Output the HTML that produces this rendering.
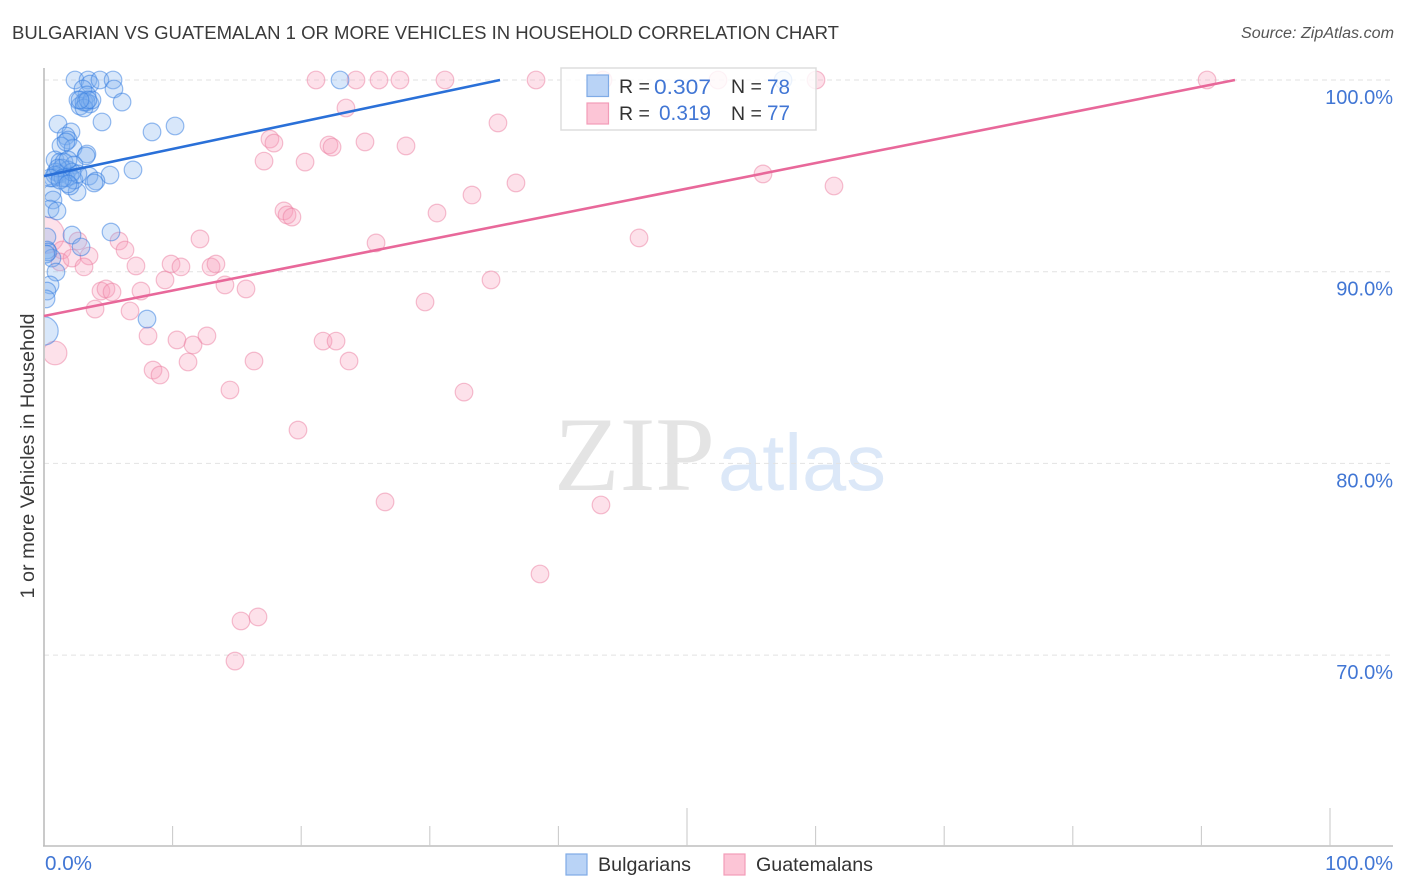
<!DOCTYPE html>
<html lang="en">
<head>
<meta charset="utf-8">
<title>Bulgarian vs Guatemalan 1 or More Vehicles in Household Correlation Chart</title>
<style>
html,body{margin:0;padding:0;background:#fff;}
svg{display:block;font-family:"Liberation Sans",sans-serif;}
</style>
</head>
<body>
<svg id="chart" xmlns="http://www.w3.org/2000/svg" width="1406" height="892" viewBox="0 0 1406 892">
  <defs>
    <clipPath id="plot-clip"><rect x="45" y="0" width="1361" height="846"></rect></clipPath>
  </defs>
  <rect x="0" y="0" width="1406" height="892" fill="#ffffff"></rect>
  <text x="12" y="39" font-size="18.5" fill="#3a3a3a" textLength="827" lengthAdjust="spacingAndGlyphs">BULGARIAN VS GUATEMALAN 1 OR MORE VEHICLES IN HOUSEHOLD CORRELATION CHART</text>
  <text x="1241" y="38" font-size="15.5" font-style="italic" fill="#555555" textLength="153" lengthAdjust="spacingAndGlyphs">Source: ZipAtlas.com</text>
  <g>
    <text x="554" y="490" font-family="'Liberation Serif',serif" font-size="106" fill="#e4e4e4" textLength="161" lengthAdjust="spacingAndGlyphs">ZIP</text>
    <text x="718" y="490" font-size="80" fill="#dce8f8" textLength="168" lengthAdjust="spacingAndGlyphs">atlas</text>
  </g>
  <g id="grid"></g>
  <g id="axes"></g>
  <g id="points" clip-path="url(#plot-clip)"></g>
  <g id="trends"></g>
  <text transform="translate(34,456) rotate(-90)" font-size="19" fill="#3a3a3a" text-anchor="middle" textLength="285" lengthAdjust="spacingAndGlyphs">1 or more Vehicles in Household</text>

  <g>
    <rect x="561" y="68" width="255" height="62" fill="#ffffff" fill-opacity="0.82" stroke="#dddddd" stroke-width="1.5"></rect>
    <rect x="587" y="75" width="21.5" height="21.5" fill="#b9d3f6" stroke="#7fabe6" stroke-width="1.2"></rect>
    <rect x="587" y="103" width="21.5" height="21" fill="#fcc5d6" stroke="#f29cb8" stroke-width="1.2"></rect>
    <text x="619" y="93" font-size="19.5" fill="#333333">R =</text>
    <text x="654" y="94" font-size="21.5" fill="#4176d4" textLength="57" lengthAdjust="spacingAndGlyphs">0.307</text>
    <text x="731" y="93" font-size="19.5" fill="#333333">N =</text>
    <text x="767" y="94" font-size="21.5" fill="#4176d4" textLength="23" lengthAdjust="spacingAndGlyphs">78</text>
    <text x="619" y="120" font-size="19.5" fill="#333333">R =</text>
    <text x="659" y="120" font-size="21.5" fill="#4176d4" textLength="52" lengthAdjust="spacingAndGlyphs">0.319</text>
    <text x="731" y="120" font-size="19.5" fill="#333333">N =</text>
    <text x="767" y="120" font-size="21.5" fill="#4176d4" textLength="23" lengthAdjust="spacingAndGlyphs">77</text>
  </g>

  <g>
    <g>
      <rect x="566" y="854" width="21" height="21" fill="#b9d3f6" stroke="#7fabe6" stroke-width="1.2"></rect>
      <text x="598" y="871" font-size="19.5" fill="#333333" textLength="93" lengthAdjust="spacingAndGlyphs">Bulgarians</text>
    </g>
    <g>
      <rect x="724" y="854" width="21" height="21" fill="#fcc5d6" stroke="#f29cb8" stroke-width="1.2"></rect>
      <text x="756" y="871" font-size="19.5" fill="#333333" textLength="117" lengthAdjust="spacingAndGlyphs">Guatemalans</text>
    </g>
  </g>
</svg>
<script>
const yTickValues = [100, 90, 80, 70];
const yTickLabels = ["100.0%", "90.0%", "80.0%", "70.0%"];
const xTickValues = [10, 20, 30, 40, 50, 60, 70, 80, 90, 100];
const xMajorTicks = [50, 100];
const xEndLabels = ["0.0%", "100.0%"];

const bulgarianX = [2.41,3.42,3.58,4.35,5.37,5.44,3.03,3.34,2.64,2.80,3.11,3.58,3.27,6.07,4.51,1.09,8.40,10.19,23.02,57.47,
  2.10,1.71,1.87,1.32,2.26,1.71,3.34,3.27,0.86,1.24,1.56,2.33,6.92,5.13,0.93,1.24,1.87,2.02,3.50,4.04,
  3.89,2.57,2.02,0.70,1.71,2.33,1.40,0.62,0.70,0.47,1.01,5.21,2.18,2.88,0.23,0.23,0.62,0.31,0.93,0.47,
  0.23,0.16,8.01,0,0.86,1.09,1.48,0.47,2.18,1.24,2.64,1.87,3.11,3.73,3.42,2.80,1.87,0.16];
const bulgarianY = [100,100,99.79,100,100,99.53,99.53,99.22,98.96,98.64,98.85,98.75,98.85,98.85,97.81,97.70,97.29,97.60,100,100,
  97.29,97.08,96.87,96.56,96.45,96.77,96.14,96.04,95.83,95.72,95.72,95.57,95.31,95.04,95.20,95.10,95.31,94.99,94.99,94.73,
  94.63,94.16,94.47,94.89,94.89,94.78,95.41,94.11,93.74,93.27,93.17,92.07,91.91,91.29,91.81,91.13,90.71,91.03,89.98,89.31,
  88.99,88.58,87.53,86.91,95.04,95.41,94.89,94.89,95.20,94.78,95.10,94.58,98.54,98.96,98.96,98.96,95.83,90.92];
const bulgarianWeight = {63: 2.6};

const guatemalanX = [0.16,0.86,1.40,2.64,1.24,2.18,3.50,3.11,5.83,6.30,7.15,
  3.97,4.43,4.82,5.29,7.54,6.69,8.09,8.48,9.02,9.41,
  9.88,10.65,10.34,11.20,11.59,12.67,12.13,12.99,13.37,14.07,
  15.71,14.46,16.33,14.85,15.32,16.64,19.75,21.70,22.71,23.72,
  26.52,32.66,43.31,38.57,29.63,34.76,25.82,18.66,18.90,19.28,
  30.56,33.28,36.70,46.27,55.91,61.43,17.11,17.57,17.88,20.30,
  22.16,22.40,24.96,28.15,23.48,35.30,21.15,24.26,26.05,27.68,
  31.18,38.26,43.47,52.41,60.03,90.44];
const guatemalanY = [91.91,85.76,91.13,91.60,90.51,90.71,90.82,90.25,91.60,91.13,90.30,
  88.05,88.99,89.10,88.94,88.99,87.95,86.65,84.87,84.61,89.57,
  90.40,90.25,86.44,85.29,86.18,86.65,91.71,90.25,90.40,89.31,
  89.10,83.83,85.34,69.69,71.78,71.99,81.74,86.38,86.38,85.34,
  77.99,83.72,77.83,74.23,88.42,89.57,91.50,93.17,92.96,92.85,
  93.06,94.00,94.63,91.76,95.10,94.47,95.77,96.92,96.71,95.72,
  96.61,96.50,96.77,96.56,98.54,97.76,100,100,100,100,
  100,100,100,100,100,100];
const guatemalanWeight = {0: 4.3, 1: 1.8};

const bulgarianTrendX = [0, 35.46];
const bulgarianTrendY = [94.99, 100];
const guatemalanTrendX = [0, 92.61];
const guatemalanTrendY = [87.69, 100];

const SVG_NS = "http://www.w3.org/2000/svg";
const xScale = v => 44 + v * 12.86;
const yScale = v => 80 + (100 - v) * 19.17;
const baseRadius = 8.8;

function make(parent, tag, attrs, text) {
  const el = document.createElementNS(SVG_NS, tag);
  for (const k in attrs) el.setAttribute(k, attrs[k]);
  if (text !== undefined) el.textContent = text;
  parent.appendChild(el);
  return el;
}

const grid = document.getElementById("grid");
const axes = document.getElementById("axes");
const points = document.getElementById("points");
const trends = document.getElementById("trends");

yTickValues.forEach((v, i) => {
  const line = make(grid, "line", {x1: 44, x2: 1393, y1: yScale(v), y2: yScale(v), stroke: "#e2e2e2", "stroke-width": 1, "stroke-dasharray": "5 4"});
  
  
  const label = make(axes, "text", {x: 1393, y: yScale(v) + 24, "font-size": 20, fill: "#4176d4", "text-anchor": "end"}, yTickLabels[i]);
  
  
});

const yAxis = make(axes, "line", {x1: 44, x2: 44, y1: 68, y2: 846, stroke: "#bdbdbd", "stroke-width": 1.6});


const xAxis = make(axes, "line", {x1: 43, x2: 1393, y1: 846, y2: 846, stroke: "#bdbdbd", "stroke-width": 1.4});



xTickValues.forEach(v => {
  const top = xMajorTicks.includes(v) ? 808 : 826;
  const tick = make(axes, "line", {x1: xScale(v), x2: xScale(v), y1: top, y2: 846, stroke: "#cccccc", "stroke-width": 1.1});
  
  
});

const xStartLabel = make(axes, "text", {x: 45, y: 870, "font-size": 20, fill: "#4176d4", textLength: 47, lengthAdjust: "spacingAndGlyphs"}, xEndLabels[0]);


const xEndLabel = make(axes, "text", {x: 1393, y: 870, "font-size": 20, fill: "#4176d4", "text-anchor": "end"}, xEndLabels[1]);



function drawSeries(xs, ys, weights, fill, stroke, strokeOpacity) {
  xs.forEach((v, i) => {
    const w = weights[i] || 1;
    const c = make(points, "circle", {
      cx: xScale(v), cy: yScale(ys[i]), r: baseRadius * Math.sqrt(w),
      fill: fill, "fill-opacity": 0.3, stroke: stroke, "stroke-opacity": strokeOpacity, "stroke-width": 1.2
    });
    
    
  });
}
drawSeries(guatemalanX, guatemalanY, guatemalanWeight, "#f79ab8", "#ec7fa2", 0.5);
drawSeries(bulgarianX, bulgarianY, bulgarianWeight, "#7eaeef", "#2f7ae0", 0.5);

const pinkTrend = make(trends, "line", {x1: xScale(guatemalanTrendX[0]), y1: yScale(guatemalanTrendY[0]), x2: xScale(guatemalanTrendX[1]), y2: yScale(guatemalanTrendY[1]), stroke: "#e8689a", "stroke-width": 2.6});


const blueTrend = make(trends, "line", {x1: xScale(bulgarianTrendX[0]), y1: yScale(bulgarianTrendY[0]), x2: xScale(bulgarianTrendX[1]), y2: yScale(bulgarianTrendY[1]), stroke: "#2a70d8", "stroke-width": 2.6});


</script>
</body>
</html>
